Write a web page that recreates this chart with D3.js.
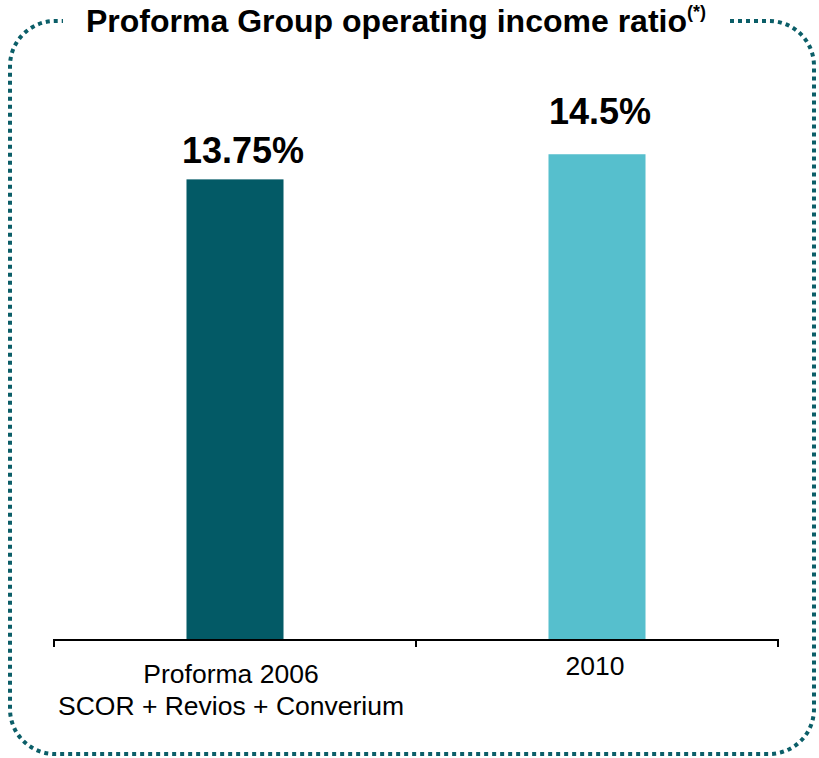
<!DOCTYPE html>
<html>
<head>
<meta charset="utf-8">
<script src="https://cdn.jsdelivr.net/npm/d3@7"></script>
<style>
  body { margin: 0; background: #ffffff; }
  svg { display: block; }
  text { font-family: "Liberation Sans", Arial, Helvetica, sans-serif; }
</style>
</head>
<body>
<svg id="chart" width="819" height="758"></svg>
<script>
// Chart data
const categories = ["Proforma 2006\nSCOR + Revios + Converium", "2010"];
const values = [13.75, 14.5];
const valueLabels = ["13.75%", "14.5%"];
const barColors = ["#035a66", "#56bfcd"];
const titleText = "Proforma Group operating income ratio";
const titleNote = "(*)";

// Layout
const W = 819, H = 758;
const axisLeft = 54, axisRight = 778, axisY = 640;
const labelGap = [16, 30];          // space between bar top and value label
const frame = { x0: 10, y0: 21, x1: 814, y1: 754, r: 45, gapL: 63, gapR: 730 };
const frameColor = "#0b5e68";

const svg = d3.select("#chart");

// Dotted rounded frame, open at the top where the title sits
const f = frame;
const framePath = d3.path();
framePath.moveTo(f.gapR, f.y0);
framePath.lineTo(f.x1 - f.r, f.y0);
framePath.arcTo(f.x1, f.y0, f.x1, f.y0 + f.r, f.r);
framePath.lineTo(f.x1, f.y1 - f.r);
framePath.arcTo(f.x1, f.y1, f.x1 - f.r, f.y1, f.r);
framePath.lineTo(f.x0 + f.r, f.y1);
framePath.arcTo(f.x0, f.y1, f.x0, f.y1 - f.r, f.r);
framePath.lineTo(f.x0, f.y0 + f.r);
framePath.arcTo(f.x0, f.y0, f.x0 + f.r, f.y0, f.r);
framePath.lineTo(f.gapL, f.y0);

svg.append("path")
  .attr("d", framePath.toString())
  .attr("fill", "none")
  .attr("stroke", frameColor)
  .attr("stroke-width", 4)
  .attr("stroke-dasharray", "4 4");

// Title with superscript note
const title = svg.append("text")
  .attr("x", 396)
  .attr("y", 32)
  .attr("text-anchor", "middle")
  .attr("font-weight", "bold")
  .attr("font-size", 32)
  .attr("fill", "#000");
title.append("tspan").text(titleText);
title.append("tspan")
  .attr("dy", -14)
  .attr("font-size", 18)
  .text(titleNote);

// Scales
const x = d3.scaleBand()
  .domain(categories)
  .range([axisLeft, axisRight])
  .paddingInner(0.732)
  .paddingOuter(0.366);

const y = d3.scaleLinear()
  .domain([0, 16])
  .range([axisY, axisY - 16 * 33.5]);

// Bars
svg.selectAll("rect.bar")
  .data(values)
  .join("rect")
  .attr("class", "bar")
  .attr("x", (d, i) => x(categories[i]))
  .attr("y", d => y(d))
  .attr("width", x.bandwidth())
  .attr("height", d => y(0) - y(d))
  .attr("fill", (d, i) => barColors[i]);

// Value labels
svg.selectAll("text.value")
  .data(values)
  .join("text")
  .attr("class", "value")
  .attr("x", (d, i) => x(categories[i]) + x.bandwidth() / 2 + (i === 0 ? 8 : 3))
  .attr("y", (d, i) => y(d) - labelGap[i])
  .attr("text-anchor", "middle")
  .attr("font-weight", "bold")
  .attr("font-size", 36)
  .attr("fill", "#000")
  .text((d, i) => valueLabels[i]);

// Category axis: baseline with ticks on band boundaries
const axisG = svg.append("g").attr("transform", `translate(0,${axisY})`);
const boundaries = [axisLeft].concat(categories.map(c => x(c) - x.step() * x.paddingInner() / 2 + x.step()));
boundaries[boundaries.length - 1] = axisRight;

axisG.append("line")
  .attr("x1", axisLeft).attr("x2", axisRight)
  .attr("y1", 0).attr("y2", 0)
  .attr("stroke", "#000").attr("stroke-width", 2);

axisG.selectAll("line.tick")
  .data(boundaries)
  .join("line")
  .attr("class", "tick")
  .attr("x1", d => d).attr("x2", d => d)
  .attr("y1", -1).attr("y2", 7)
  .attr("stroke", "#000").attr("stroke-width", 2);

// Category labels (single-line label sits slightly higher)
axisG.selectAll("text.cat")
  .data(categories)
  .join("text")
  .attr("class", "cat")
  .attr("text-anchor", "middle")
  .attr("font-size", 26.5)
  .attr("fill", "#000")
  .each(function (d, i) {
    const lines = d.split("\n");
    const t = d3.select(this);
    const cx = x(d) + x.bandwidth() / 2 - (i === 0 ? 4 : 2);
    const y0 = lines.length > 1 ? 43 : 35;
    lines.forEach((line, k) => {
      t.append("tspan")
        .attr("x", cx)
        .attr("y", y0 + k * 32)
        .text(line);
    });
  });
</script>
</body>
</html>
